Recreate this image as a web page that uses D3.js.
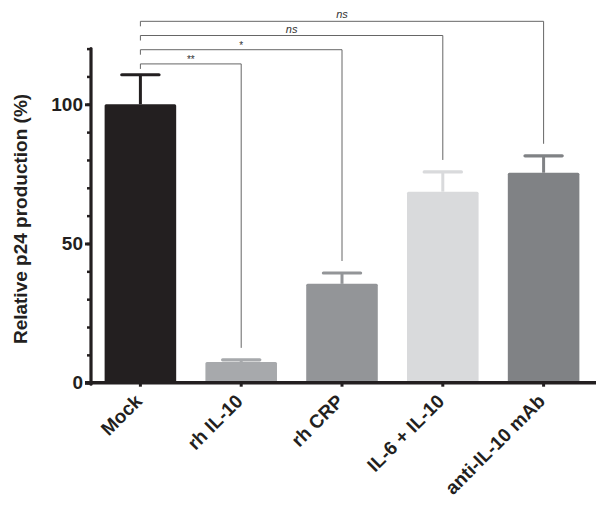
<!DOCTYPE html>
<html><head><meta charset="utf-8">
<script src="https://cdn.jsdelivr.net/npm/d3@7"></script>
<style>body{margin:0;background:#fff}svg{display:block}text{font-family:"Liberation Sans",Arial,sans-serif}</style>
</head><body><svg id="c" width="600" height="510"></svg>
<script>
const categories = ["Mock", "rh IL-10", "rh CRP", "IL-6 + IL-10", "anti-IL-10 mAb"];
const values = [100, 7.4, 35.5, 68.6, 75.4];
const errors = [10.6, 0.8, 3.9, 7.1, 6.1];
const barColors = ["#231f20", "#a7a9ac", "#939598", "#d9dadc", "#808285"];
const majorTicks = [0, 50, 100];
const minorTicks = d3.range(0, 121, 10);
const compareTargets = [1, 2, 3, 4];
const compareLabels = ["**", "*", "ns", "ns"];

const svg = d3.select("#c");
const x = d3.scaleBand().domain(categories).range([90, 594]).paddingInner(0.29).paddingOuter(0.145);
const y = d3.scaleLinear().domain([0, 120]).range([382.7, 48.6]);

// bars
svg.selectAll("rect.bar").data(categories).join("rect")
  .attr("x", d => x(d)).attr("width", x.bandwidth())
  .attr("y", (d, i) => y(values[i])).attr("height", (d, i) => y(0) - y(values[i]))
  .attr("rx", 1.5).attr("fill", (d, i) => barColors[i]);

// error bars
const capW = x.bandwidth() * 0.52;
const eb = svg.append("g");
categories.forEach((c, i) => {
  const cx = x(c) + x.bandwidth() / 2;
  eb.append("line").attr("x1", cx).attr("x2", cx).attr("y1", y(values[i])).attr("y2", y(values[i] + errors[i]))
    .attr("stroke", barColors[i]).attr("stroke-width", 3);
  eb.append("line").attr("x1", cx - capW / 2).attr("x2", cx + capW / 2)
    .attr("y1", y(values[i] + errors[i])).attr("y2", y(values[i] + errors[i]))
    .attr("stroke", barColors[i]).attr("stroke-width", 3.2).attr("stroke-linecap", "round");
});

// axes
const minorAxis = d3.axisLeft(y).tickValues(minorTicks).tickSize(4).tickFormat("");
const majorAxis = d3.axisLeft(y).tickValues(majorTicks).tickSize(6).tickPadding(2);
const gMinor = svg.append("g").attr("transform", "translate(91,0)").call(minorAxis);
gMinor.select(".domain").remove();
gMinor.selectAll(".tick line").attr("stroke", "#231f20").attr("stroke-width", 2.5);
const gMajor = svg.append("g").attr("transform", "translate(91,0)").call(majorAxis);
gMajor.select(".domain").remove();
gMajor.selectAll(".tick line").attr("stroke", "#231f20").attr("stroke-width", 3);
gMajor.selectAll(".tick text").attr("font-size", 19).attr("font-weight", "bold").attr("fill", "#231f20");
svg.append("line").attr("x1", 91).attr("x2", 91).attr("y1", y(120)).attr("y2", y(0) + 1.5)
  .attr("stroke", "#231f20").attr("stroke-width", 3.2).attr("stroke-linecap", "round");

const xAxis = d3.axisBottom(x).tickSize(4).tickSizeOuter(0).tickPadding(4);
const gx = svg.append("g").attr("transform", `translate(0,${y(0)})`).call(xAxis);
gx.select(".domain").remove();
svg.append("line").attr("x1", 85).attr("x2", 596).attr("y1", y(0)).attr("y2", y(0))
  .attr("stroke", "#231f20").attr("stroke-width", 3.4);
gx.selectAll(".tick line").attr("stroke", "#231f20").attr("stroke-width", 3);
gx.selectAll(".tick text").attr("font-size", 19).attr("font-weight", "bold").attr("fill", "#231f20")
  .attr("text-anchor", "end").attr("dy", "0.35em")
  .attr("transform", "translate(-2,15) rotate(-45)").attr("x", 0).attr("y", 0);

// y title
svg.append("text").attr("transform", `translate(27,219) rotate(-90)`)
  .attr("text-anchor", "middle").attr("font-size", 19).attr("font-weight", "bold").attr("fill", "#231f20")
  .text("Relative p24 production (%)");

// significance brackets
const bg = svg.append("g");
const x0 = x(categories[0]) + x.bandwidth() / 2;
compareTargets.forEach((t, k) => {
  const by = y(114.5 + k * 5.1);
  const x1 = x(categories[t]) + x.bandwidth() / 2;
  const bottom = y(values[t] + errors[t]) - 12;
  bg.append("path").attr("d", `M${x0},${by + 5}V${by}H${x1}V${bottom}`)
    .attr("fill", "none").attr("stroke", "#666").attr("stroke-width", 1);
  const isNs = compareLabels[k] === "ns";
  bg.append("text").attr("x", (x0 + x1) / 2).attr("y", isNs ? by - 3 : by - 1).attr("text-anchor", "middle")
    .attr("font-size", isNs ? 11 : 10).attr("font-style", isNs ? "italic" : "normal").attr("fill", "#333")
    .text(compareLabels[k]);
});
</script></body></html>
